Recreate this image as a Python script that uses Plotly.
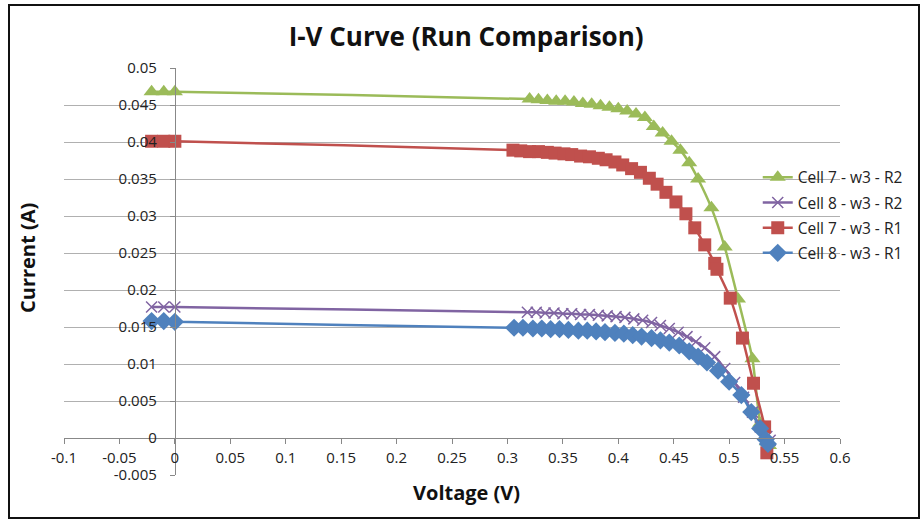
import plotly.graph_objects as go

# Measured I-V sweeps (voltage in V, current in A)
cell7_r2_v = [-0.021, -0.010, 0.0, 0.320, 0.328, 0.336, 0.344, 0.352, 0.360, 0.368,
              0.376, 0.384, 0.392, 0.400, 0.408, 0.416, 0.424, 0.432, 0.440, 0.448,
              0.456, 0.464, 0.472, 0.484, 0.496, 0.508, 0.521, 0.528, 0.534, 0.536]
cell7_r2_i = [0.0468, 0.0468, 0.0468, 0.0458, 0.0457, 0.0456, 0.0455, 0.0455, 0.0454, 0.0452,
              0.0451, 0.0449, 0.0447, 0.0445, 0.0442, 0.0438, 0.0433, 0.0421, 0.0412, 0.0401,
              0.0389, 0.0372, 0.0350, 0.0311, 0.0258, 0.0188, 0.0107, 0.0020, -0.0005, -0.0010]

cell8_r2_v = [-0.021, -0.010, 0.0, 0.318, 0.326, 0.334, 0.342, 0.350, 0.358, 0.366,
              0.374, 0.382, 0.390, 0.398, 0.406, 0.414, 0.422, 0.430, 0.438, 0.446,
              0.454, 0.462, 0.470, 0.478, 0.487, 0.496, 0.505, 0.513, 0.521, 0.528,
              0.534, 0.537]
cell8_r2_i = [0.0177, 0.0177, 0.0177, 0.0170, 0.0170, 0.0169, 0.0169, 0.0168, 0.0168, 0.0167,
              0.0167, 0.0166, 0.0165, 0.0164, 0.0163, 0.0161, 0.0159, 0.0156, 0.0152, 0.0148,
              0.0143, 0.0137, 0.0130, 0.0122, 0.0110, 0.0094, 0.0075, 0.0055, 0.0035, 0.0015,
              0.0002, -0.0003]

cell7_r1_v = [-0.021, -0.010, 0.0, 0.305, 0.312, 0.320, 0.328, 0.336, 0.343, 0.351,
              0.358, 0.366, 0.374, 0.382, 0.389, 0.397, 0.404, 0.412, 0.420, 0.428,
              0.435, 0.443, 0.452, 0.461, 0.469, 0.478, 0.487, 0.489, 0.501, 0.512,
              0.522, 0.532, 0.534]
cell7_r1_i = [0.0401, 0.0401, 0.0401, 0.0389, 0.0388, 0.0387, 0.0387, 0.0386, 0.0385, 0.0384,
              0.0383, 0.0381, 0.0380, 0.0378, 0.0376, 0.0373, 0.0369, 0.0364, 0.0359, 0.0351,
              0.0343, 0.0332, 0.0319, 0.0303, 0.0284, 0.0261, 0.0236, 0.0228, 0.0189, 0.0135,
              0.0074, 0.0015, -0.0020]

cell8_r1_v = [-0.021, -0.010, 0.0, 0.306, 0.314, 0.323, 0.331, 0.339, 0.347, 0.355,
              0.364, 0.372, 0.380, 0.388, 0.397, 0.405, 0.413, 0.421, 0.430, 0.438,
              0.446, 0.455, 0.464, 0.472, 0.480, 0.490, 0.500, 0.511, 0.520, 0.528,
              0.533, 0.535]
cell8_r1_i = [0.0158, 0.0158, 0.0157, 0.0149, 0.0149, 0.0148, 0.0148, 0.0147, 0.0147, 0.0146,
              0.0145, 0.0145, 0.0144, 0.0143, 0.0142, 0.0141, 0.0139, 0.0137, 0.0135, 0.0132,
              0.0129, 0.0125, 0.0117, 0.0110, 0.0102, 0.0091, 0.0076, 0.0058, 0.0035, 0.0013,
              -0.0002, -0.0008]

x_tick_vals = [-0.1, -0.05, 0, 0.05, 0.1, 0.15, 0.2, 0.25, 0.3, 0.35, 0.4, 0.45, 0.5, 0.55, 0.6]
x_tick_text = ["-0.1", "-0.05", "0", "0.05", "0.1", "0.15", "0.2", "0.25", "0.3", "0.35",
               "0.4", "0.45", "0.5", "0.55", "0.6"]
y_tick_vals = [-0.005, 0, 0.005, 0.01, 0.015, 0.02, 0.025, 0.03, 0.035, 0.04, 0.045, 0.05]
y_tick_text = ["-0.005", "0", "0.005", "0.01", "0.015", "0.02", "0.025", "0.03", "0.035",
               "0.04", "0.045", "0.05"]

FONT = "'Open Sans', Lato, sans-serif"

series = [
    ("Cell 7 - w3 - R2", cell7_r2_v, cell7_r2_i, "#9BBB59",
     dict(symbol="triangle-up", size=14)),
    ("Cell 8 - w3 - R2", cell8_r2_v, cell8_r2_i, "#8064A2",
     dict(symbol="x-thin-open", size=11, line=dict(width=1.5, color="#8064A2"))),
    ("Cell 7 - w3 - R1", cell7_r1_v, cell7_r1_i, "#C0504D",
     dict(symbol="square", size=13)),
    ("Cell 8 - w3 - R1", cell8_r1_v, cell8_r1_i, "#4F81BD",
     dict(symbol="diamond", size=14)),
]

fig = go.Figure()
for name, v, i, color, marker in series:
    fig.add_trace(go.Scatter(
        x=v, y=i, name=name, mode="lines+markers",
        line=dict(color=color, width=2.5, shape="spline", smoothing=0.6),
        marker=dict(color=color, **marker),
        legendgroup=name,
    ))

x0, x1 = -0.1, 0.6
y0, y1 = -0.005, 0.05

fig.update_layout(
    width=923, height=520,
    margin=dict(l=64, r=83, t=68, b=45),
    paper_bgcolor="white", plot_bgcolor="white",
    font=dict(family=FONT, size=15, color="#222"),
    title=dict(text="<b>I-V Curve (Run Comparison)</b>", x=0.505, xanchor="center",
               y=1 - 37 / 520, yanchor="middle", font=dict(size=26, color="#111")),
    showlegend=True,
    legend=dict(x=0.894, xanchor="left", y=0.772, yanchor="top",
                font=dict(size=15.5, color="#222"), tracegroupgap=2,
                bgcolor="rgba(0,0,0,0)"),
    xaxis=dict(range=[x0, x1], domain=[0, 1], anchor="free",
               position=(0 - y0) / (y1 - y0),
               tickvals=x_tick_vals, ticktext=x_tick_text,
               showgrid=False, zeroline=False, showline=True,
               linecolor="#888", linewidth=1,
               ticks="outside", ticklen=5, tickcolor="#888",
               ticklabelstandoff=1,
               tickfont=dict(size=15, color="#222")),
    yaxis=dict(range=[y0, y1], domain=[0, 1], anchor="free",
               position=(0 - x0) / (x1 - x0),
               tickvals=y_tick_vals, ticktext=y_tick_text,
               showgrid=True, gridcolor="#b0b0b0", gridwidth=1,
               zeroline=False, showline=True, linecolor="#888", linewidth=1,
               ticks="outside", ticklen=5, tickcolor="#888",
               ticklabelstandoff=10,
               tickfont=dict(size=15, color="#222")),
    annotations=[
        dict(text="<b>Current (A)</b>", textangle=-90, xref="paper", yref="paper",
             x=(27 - 64) / 776, y=(475 - 258) / 407, xanchor="center", yanchor="middle",
             showarrow=False, font=dict(size=20, color="#111")),
        dict(text="<b>Voltage (V)</b>", xref="paper", yref="paper",
             x=(466 - 64) / 776, y=(475 - 492) / 407, xanchor="center", yanchor="middle",
             showarrow=False, font=dict(size=20, color="#111")),
    ],
    shapes=[
        dict(type="rect", xref="paper", yref="paper",
             x0=(9 - 64) / 776, x1=(919 - 64) / 776,
             y0=(475 - 518) / 407, y1=(475 - 5) / 407,
             line=dict(color="#111", width=2), fillcolor="rgba(0,0,0,0)", layer="below"),
    ],
)

fig.write_html("out.html")
